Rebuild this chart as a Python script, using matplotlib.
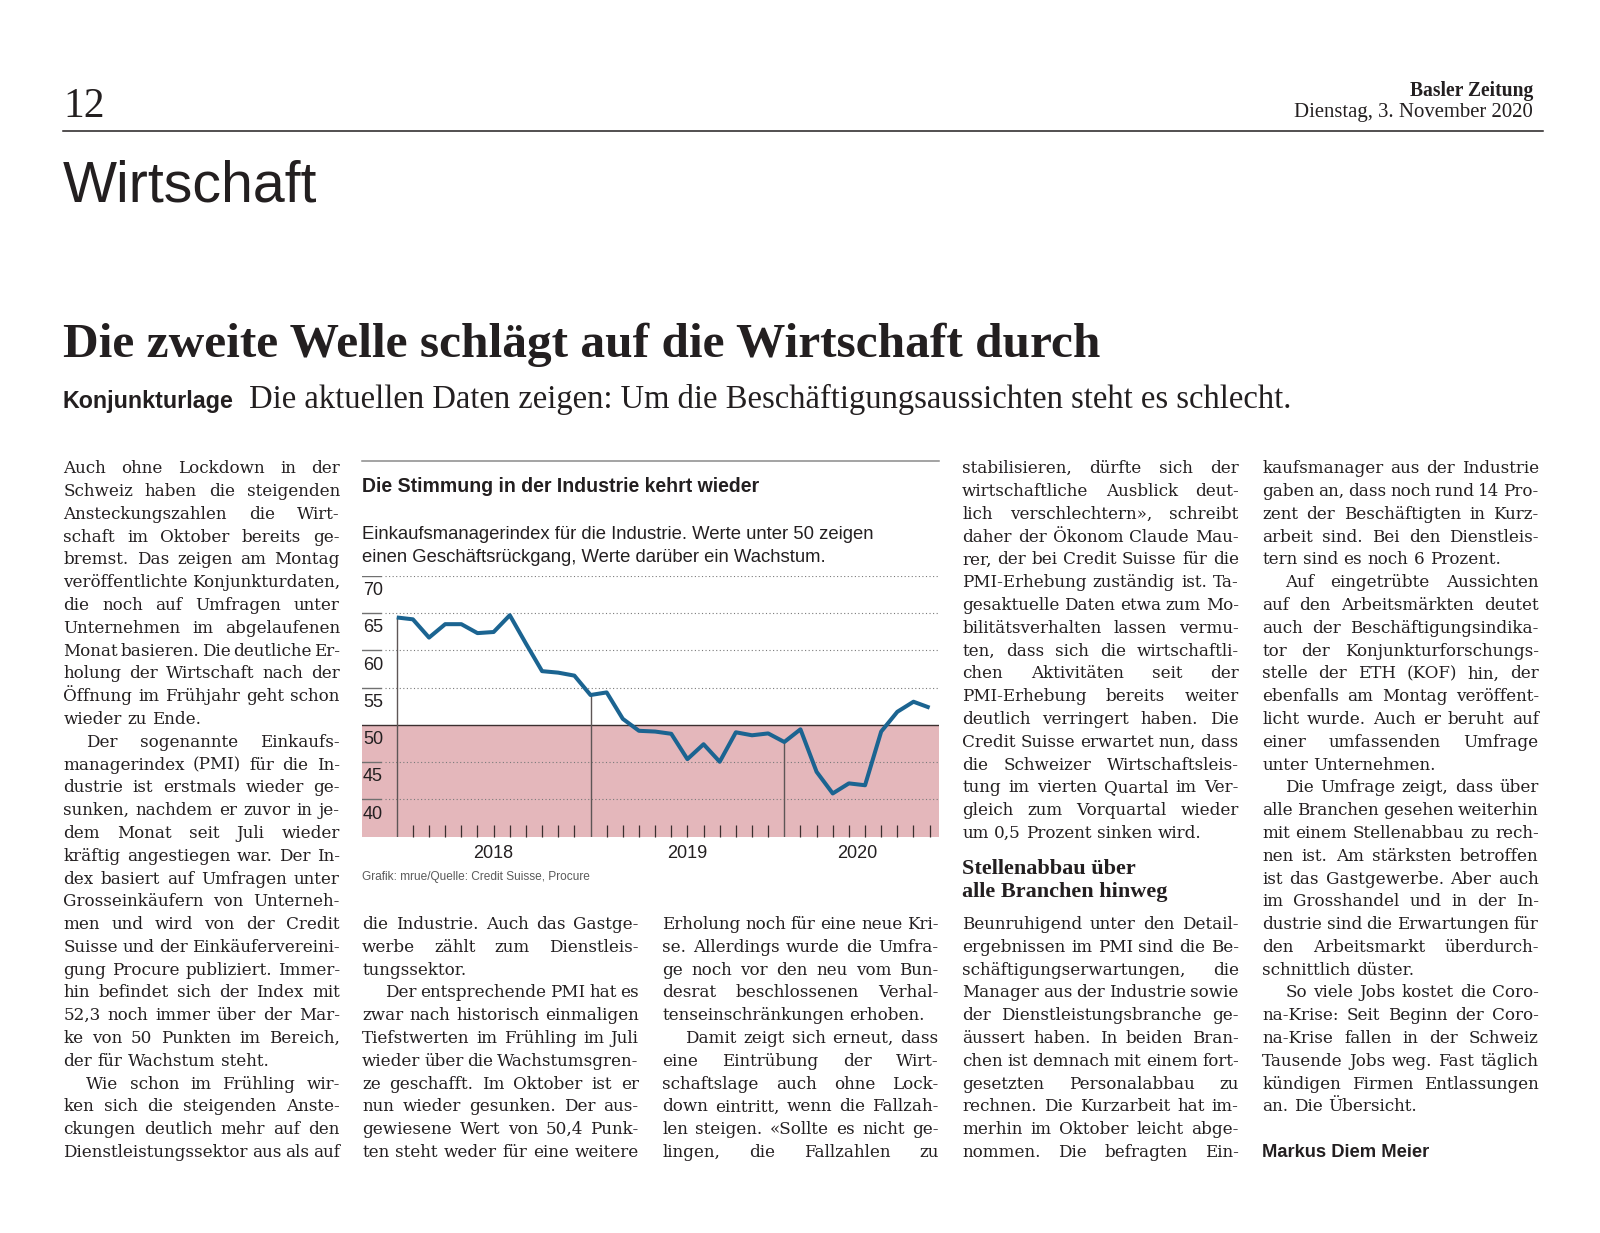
import matplotlib
matplotlib.use('Agg')
import matplotlib.pyplot as plt
from matplotlib.font_manager import FontProperties
from matplotlib.transforms import blended_transform_factory, offset_copy

# ---- chart data (Einkaufsmanagerindex Industrie, Jan 2018 - Okt 2020) ----
pmi = [64.4, 64.15, 61.7, 63.5, 63.5, 62.3, 62.45, 64.7, 60.9, 57.2, 57.0, 56.6,
       54.0, 54.35, 50.8, 49.2, 49.1, 48.8, 45.4, 47.4, 45.05, 49.0, 48.6, 48.85,
       47.7, 49.4, 43.7, 40.8, 42.15, 41.9, 49.1, 51.75, 53.1, 52.3]
years = [2018, 2019, 2020]
y_ticks = [70, 65, 60, 55, 50, 45, 40]
threshold = 50

chart_title = 'Die Stimmung in der Industrie kehrt wieder'
chart_sub = ['Einkaufsmanagerindex für die Industrie. Werte unter 50 zeigen',
             'einen Geschäftsrückgang, Werte darüber ein Wachstum.']
chart_source = 'Grafik: mrue/Quelle: Credit Suisse, Procure'

# ---- article text; '\t' = indented first line, '\n' = paragraph end ----
col1 = ['Auch ohne Lockdown in der', 'Schweiz haben die steigenden',
        'Ansteckungszahlen die Wirt-', 'schaft im Oktober bereits ge-',
        'bremst. Das zeigen am Montag', 'veröffentlichte Konjunkturdaten,',
        'die noch auf Umfragen unter', 'Unternehmen im abgelaufenen',
        'Monat basieren. Die deutliche Er-', 'holung der Wirtschaft nach der',
        'Öffnung im Frühjahr geht schon', 'wieder zu Ende.\n',
        '\tDer sogenannte Einkaufs-', 'managerindex (PMI) für die In-',
        'dustrie ist erstmals wieder ge-', 'sunken, nachdem er zuvor in je-',
        'dem Monat seit Juli wieder', 'kräftig angestiegen war. Der In-',
        'dex basiert auf Umfragen unter', 'Grosseinkäufern von Unterneh-',
        'men und wird von der Credit', 'Suisse und der Einkäufervereini-',
        'gung Procure publiziert. Immer-', 'hin befindet sich der Index mit',
        '52,3 noch immer über der Mar-', 'ke von 50 Punkten im Bereich,',
        'der für Wachstum steht.\n', '\tWie schon im Frühling wir-',
        'ken sich die steigenden Anste-', 'ckungen deutlich mehr auf den',
        'Dienstleistungssektor aus als auf']
col2 = ['die Industrie. Auch das Gastge-', 'werbe zählt zum Dienstleis-',
        'tungssektor.\n', '\tDer entsprechende PMI hat es',
        'zwar nach historisch einmaligen', 'Tiefstwerten im Frühling im Juli',
        'wieder über die Wachstumsgren-', 'ze geschafft. Im Oktober ist er',
        'nun wieder gesunken. Der aus-', 'gewiesene Wert von 50,4 Punk-',
        'ten steht weder für eine weitere']
col3 = ['Erholung noch für eine neue Kri-', 'se. Allerdings wurde die Umfra-',
        'ge noch vor den neu vom Bun-', 'desrat beschlossenen Verhal-',
        'tenseinschränkungen erhoben.\n', '\tDamit zeigt sich erneut, dass',
        'eine Eintrübung der Wirt-', 'schaftslage auch ohne Lock-',
        'down eintritt, wenn die Fallzah-', 'len steigen. «Sollte es nicht ge-',
        'lingen, die Fallzahlen zu']
col4a = ['stabilisieren, dürfte sich der', 'wirtschaftliche Ausblick deut-',
         'lich verschlechtern», schreibt', 'daher der Ökonom Claude Mau-',
         'rer, der bei Credit Suisse für die', 'PMI-Erhebung zuständig ist. Ta-',
         'gesaktuelle Daten etwa zum Mo-', 'bilitätsverhalten lassen vermu-',
         'ten, dass sich die wirtschaftli-', 'chen Aktivitäten seit der',
         'PMI-Erhebung bereits weiter', 'deutlich verringert haben. Die',
         'Credit Suisse erwartet nun, dass', 'die Schweizer Wirtschaftsleis-',
         'tung im vierten Quartal im Ver-', 'gleich zum Vorquartal wieder',
         'um 0,5 Prozent sinken wird.\n']
subhead = ['Stellenabbau über', 'alle Branchen hinweg']
col4b = ['Beunruhigend unter den Detail-', 'ergebnissen im PMI sind die Be-',
         'schäftigungserwartungen, die', 'Manager aus der Industrie sowie',
         'der Dienstleistungsbranche ge-', 'äussert haben. In beiden Bran-',
         'chen ist demnach mit einem fort-', 'gesetzten Personalabbau zu',
         'rechnen. Die Kurzarbeit hat im-', 'merhin im Oktober leicht abge-',
         'nommen. Die befragten Ein-']
col5 = ['kaufsmanager aus der Industrie', 'gaben an, dass noch rund 14 Pro-',
        'zent der Beschäftigten in Kurz-', 'arbeit sind. Bei den Dienstleis-',
        'tern sind es noch 6 Prozent.\n', '\tAuf eingetrübte Aussichten',
        'auf den Arbeitsmärkten deutet', 'auch der Beschäftigungsindika-',
        'tor der Konjunkturforschungs-', 'stelle der ETH (KOF) hin, der',
        'ebenfalls am Montag veröffent-', 'licht wurde. Auch er beruht auf',
        'einer umfassenden Umfrage', 'unter Unternehmen.\n',
        '\tDie Umfrage zeigt, dass über', 'alle Branchen gesehen weiterhin',
        'mit einem Stellenabbau zu rech-', 'nen ist. Am stärksten betroffen',
        'ist das Gastgewerbe. Aber auch', 'im Grosshandel und in der In-',
        'dustrie sind die Erwartungen für', 'den Arbeitsmarkt überdurch-',
        'schnittlich düster.\n', '\tSo viele Jobs kostet die Coro-',
        'na-Krise: Seit Beginn der Coro-', 'na-Krise fallen in der Schweiz',
        'Tausende Jobs weg. Fast täglich', 'kündigen Firmen Entlassungen',
        'an. Die Übersicht.\n']
author = 'Markus Diem Meier'

W, H = 1600, 1233
INK = '#231f20'
SERIF = 'Liberation Serif'
BODY = 'DejaVu Serif'
SANS = 'Liberation Sans'
NARROW = ['Liberation Sans Narrow', 'Liberation Sans']

fig = plt.figure(figsize=(W / 100, H / 100), dpi=100)
page = fig.add_axes([0, 0, 1, 1])
page.set_xlim(0, W)
page.set_ylim(H, 0)
page.axis('off')
renderer = fig.canvas.get_renderer()


def text_w(s, fp):
    return renderer.get_text_width_height_descent(s, fp, ismath=False)[0]


def fitted(x, y, s, width, family, weight='normal', ha='left', color=INK):
    fp = FontProperties(family=family, weight=weight, size=20)
    size = 20 * width / text_w(s, fp)
    page.text(x, y, s, fontsize=size, family=family, weight=weight,
              ha=ha, va='baseline', color=color)
    return size


# ---- masthead ----
page.text(63, 117, '12', fontsize=30, family=SERIF, color=INK, va='baseline')
fitted(1533, 96, 'Basler Zeitung', 124, SERIF, weight='bold', ha='right')
fitted(1533, 117, 'Dienstag, 3. November 2020', 239, SERIF, ha='right')
page.plot([63, 1543], [131, 131], color=INK, lw=1.1)
fitted(63, 201, 'Wirtschaft', 254, SANS)

# ---- headline ----
fitted(63, 357, 'Die zweite Welle schlägt auf die Wirtschaft durch', 1038, SERIF,
       weight='bold')
fitted(63, 408, 'Konjunkturlage', 170, NARROW, weight='bold')
fitted(249, 408, 'Die aktuellen Daten zeigen: Um die Beschäftigungsaussichten '
       'steht es schlecht.', 1043, SERIF)

# ---- body columns ----
B0, PITCH, COLW, INDENT = 473.3, 22.79, 276.5, 23
columns = [(63.3, 0, col1), (362.2, 20, col2), (662.2, 20, col3),
           (962.2, 0, col4a), (962.2, 20, col4b), (1262.2, 0, col5)]

base = 13.8
fp0 = FontProperties(family=BODY, size=base)
sp0 = text_w('a b', fp0) - text_w('ab', fp0)
ratio = 1.0
for x0, first, lines in columns:
    for raw in lines:
        words = raw.strip().split()
        if raw.endswith('\n') or len(words) < 2:
            continue
        avail = COLW - (INDENT if raw.startswith('\t') else 0)
        need = sum(text_w(w, fp0) for w in words) + (len(words) - 1) * 0.35 * sp0
        ratio = min(ratio, avail / need)
body = FontProperties(family=BODY, size=base * ratio)
space = text_w('a b', body) - text_w('ab', body)

for x0, first, lines in columns:
    for i, raw in enumerate(lines):
        y = B0 + (first + i) * PITCH
        words = raw.strip().split()
        x = x0 + (INDENT if raw.startswith('\t') else 0)
        widths = [text_w(w, body) for w in words]
        if raw.endswith('\n') or len(words) < 2:
            gap = space
        else:
            gap = (x0 + COLW - x - sum(widths)) / (len(words) - 1)
        for w, ww in zip(words, widths):
            page.text(x, y, w, fontproperties=body, color=INK, va='baseline')
            x += ww + gap

hs = fitted(962.2, 896.5, subhead[1], 205, SERIF, weight='bold')
page.text(962.2, 873.5, subhead[0], fontsize=hs, family=SERIF, weight='bold',
          color=INK, va='baseline')
fitted(1262.2, B0 + 30 * PITCH, author, 167, SANS, weight='bold')

# ---- chart header ----
page.plot([362, 939], [461, 461], color='#8a8a8a', lw=1.1)
fitted(362, 492, chart_title, 398, NARROW, weight='bold')
sub_size = fitted(362, 539, chart_sub[0], 512, SANS)
page.text(362, 562.5, chart_sub[1], fontsize=sub_size, family=SANS,
          color=INK, va='baseline')
page.text(362, 880, chart_source, fontsize=8.6, family=SANS, color='#5a5a5a',
          va='baseline')

# ---- chart ----
left, right, top, bottom = 361.7, 939, 575.7, 836.7
ax = fig.add_axes([left / W, 1 - bottom / H, (right - left) / W, (bottom - top) / H])
months = list(range(len(pmi)))
ax.set_xlim(-2.17, 33.58)
ax.set_ylim(35, 70)
ymin = ax.get_ylim()[0]
for s in ax.spines.values():
    s.set_visible(False)
ax.set_facecolor('none')

ax.axhspan(ymin, threshold, color='#e4b7bb', lw=0, zorder=0)
split = 0.034
lab_tr = offset_copy(blended_transform_factory(ax.transAxes, ax.transData),
                     fig=fig, y=-19.3, units='dots')
for v in y_ticks:
    if v == threshold:
        ax.axhline(v, color='#3b2f2f', lw=1.0, zorder=2)
    else:
        ax.axhline(v, xmin=0, xmax=split, color='#707070', lw=1.0, zorder=1)
        ax.axhline(v, xmin=split + 0.006, xmax=1, color='#7a7a7a', lw=0.8,
                   ls=(0, (1, 2.2)), zorder=1)
    ax.text(0.002, v, str(v), transform=lab_tr, fontsize=13, family=SANS,
            color=INK, va='baseline', ha='left')

starts = [m for m in months if m % 12 == 0]
ax.vlines(starts, ymin, [pmi[m] for m in starts], color='#5e5656', lw=1.0, zorder=2)
ax.set_xticks([m for m in months if m % 12 != 0])
ax.set_yticks([])
ax.tick_params(axis='x', direction='in', length=8.4, width=0.9, color='#3b2f2f',
               labelbottom=False)
ax.plot(months, pmi, color='#1b6491', lw=2.9, solid_joinstyle='round',
        solid_capstyle='butt', zorder=3)

yr_tr = offset_copy(ax.transData, fig=fig, y=-21, units='dots')
for k, yr in enumerate(years):
    a = 12 * k
    b = min(a + 12, months[-1])
    ax.text((a + b) / 2, ymin, str(yr), transform=yr_tr, fontsize=13, family=SANS,
            color=INK, ha='center', va='baseline')

fig.savefig('out.png', dpi=100)
